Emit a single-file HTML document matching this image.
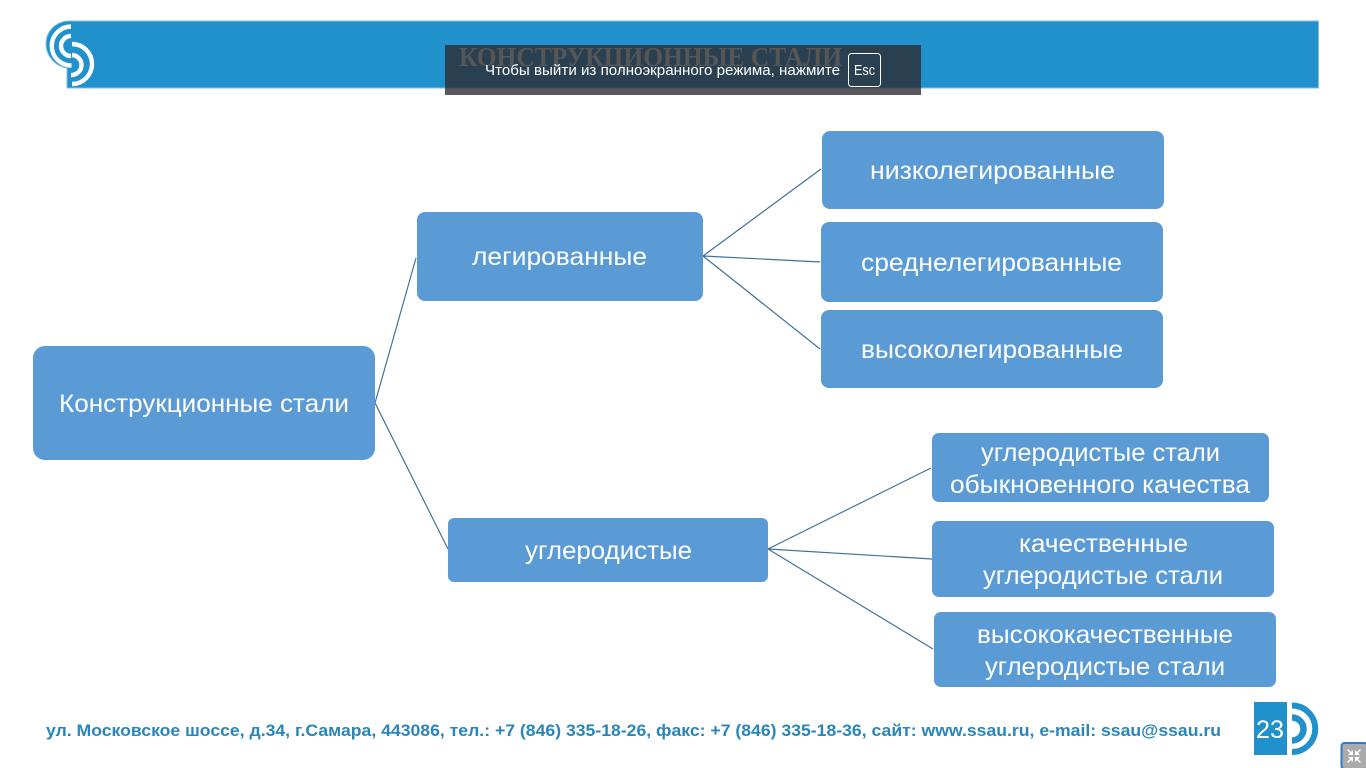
<!DOCTYPE html>
<html lang="ru">
<head>
<meta charset="utf-8">
<title>Конструкционные стали</title>
<style>
html,body{margin:0;padding:0;background:#fff;width:1366px;height:768px;overflow:hidden}
svg{display:block}
text{font-family:"Liberation Sans","DejaVu Sans",sans-serif}
.n{fill:#fff;font-size:25px}
.b{fill:#5b9bd5}
.l{stroke:#41719c;stroke-width:1.2;fill:none}
</style>
</head>
<body>
<svg width="1366" height="768" viewBox="0 0 1366 768" xmlns="http://www.w3.org/2000/svg">
<rect width="1366" height="768" fill="#fff"/>

<!-- header band -->
<path d="M70 21H1318.500V88H67V68C55 66 46 56 46 44C46 31 56 21 70 21Z" fill="#2191cb" stroke="#7fc0e2" stroke-width="1"/>
<g fill="none" stroke="#fff" stroke-width="4.400">
<path d="M71 26.500A19.500 19.500 0 1 0 71.500 65.500"/>
<path d="M71 36A10 10 0 0 0 71 56"/>
<path d="M72 44A20 20 0 0 1 72 84"/>
<path d="M72 55A10 10 0 0 1 71 75"/>
</g>

<!-- fullscreen toast -->
<rect x="445" y="45" width="476" height="50" fill="#2c2a30" fill-opacity=".79"/>
<text x="459" y="66" font-size="27" font-weight="bold" fill="#565656" textLength="383" lengthAdjust="spacingAndGlyphs" style="font-family:'Liberation Serif',serif">КОНСТРУКЦИОННЫЕ СТАЛИ</text>
<text x="485" y="75" font-size="15" fill="#fff" textLength="355" lengthAdjust="spacingAndGlyphs">Чтобы выйти из полноэкранного режима, нажмите</text>
<rect x="848.500" y="53.500" width="32" height="33" rx="3" fill="none" stroke="#fff" stroke-width="1"/>
<text x="854" y="75" font-size="15" fill="#fff" textLength="21" lengthAdjust="spacingAndGlyphs">Esc</text>

<!-- connectors -->
<path class="l" d="M375 403L416 258M375 403L448 549"/>
<path class="l" d="M703 256L821 169M703 256L820 262M703 256L820 349"/>
<path class="l" d="M768 549L931 468M768 549L932 559M768 549L933 649"/>

<!-- nodes -->
<rect class="b" x="33" y="346" width="342" height="114" rx="12"/>
<rect class="b" x="417" y="212" width="286" height="89" rx="8"/>
<rect class="b" x="448" y="518" width="320" height="64" rx="6"/>
<rect class="b" x="822" y="131" width="342" height="78" rx="8"/>
<rect class="b" x="821" y="222" width="342" height="80" rx="8"/>
<rect class="b" x="821" y="310" width="342" height="78" rx="8"/>
<rect class="b" x="932" y="433" width="337" height="69" rx="7"/>
<rect class="b" x="932" y="521" width="342" height="76" rx="7"/>
<rect class="b" x="934" y="612" width="342" height="75" rx="7"/>

<text class="n" x="59" y="412" textLength="290" lengthAdjust="spacingAndGlyphs">Конструкционные стали</text>
<text class="n" x="472" y="265" textLength="175" lengthAdjust="spacingAndGlyphs">легированные</text>
<text class="n" x="525" y="559" textLength="167" lengthAdjust="spacingAndGlyphs">углеродистые</text>
<text class="n" x="870" y="179" textLength="245" lengthAdjust="spacingAndGlyphs">низколегированные</text>
<text class="n" x="861" y="271" textLength="261" lengthAdjust="spacingAndGlyphs">среднелегированные</text>
<text class="n" x="861" y="358" textLength="262" lengthAdjust="spacingAndGlyphs">высоколегированные</text>
<text class="n" x="981" y="461" textLength="239" lengthAdjust="spacingAndGlyphs">углеродистые стали</text>
<text class="n" x="950" y="493" textLength="300" lengthAdjust="spacingAndGlyphs">обыкновенного качества</text>
<text class="n" x="1019" y="552" textLength="169" lengthAdjust="spacingAndGlyphs">качественные</text>
<text class="n" x="983" y="584" textLength="240" lengthAdjust="spacingAndGlyphs">углеродистые стали</text>
<text class="n" x="977" y="643" textLength="256" lengthAdjust="spacingAndGlyphs">высококачественные</text>
<text class="n" x="985" y="675" textLength="240" lengthAdjust="spacingAndGlyphs">углеродистые стали</text>

<!-- footer -->
<text x="46" y="736" font-size="17" font-weight="bold" fill="#2a86b8" textLength="1175" lengthAdjust="spacingAndGlyphs">ул. Московское шоссе, д.34, г.Самара, 443086, тел.: +7 (846) 335-18-26, факс: +7 (846) 335-18-36, сайт: www.ssau.ru, e-mail: ssau@ssau.ru</text>

<!-- page number -->
<rect x="1254" y="702" width="33" height="53" fill="#2191cb"/>
<text x="1256" y="738" font-size="25" fill="#fff" textLength="28" lengthAdjust="spacingAndGlyphs">23</text>
<g fill="none" stroke="#2191cb">
<path d="M1292 705.500A23.250 23.250 0 0 1 1292 752" stroke-width="6"/>
<path d="M1292 717.500A11.500 11.500 0 0 1 1292 740.500" stroke-width="6.500"/>
</g>

<!-- exit fullscreen button -->
<rect x="1341.500" y="743" width="26" height="26" rx="3" fill="#aaa" stroke="#2e7ecb" stroke-width="2"/>
<g stroke="#fff" stroke-width="1.500" fill="#fff">
<path d="M1347.500 749.500L1351 753"/>
<path d="M1360.500 749.500L1357 753"/>
<path d="M1347.500 762.500L1351 759"/>
<path d="M1360.500 762.500L1357 759"/>
</g>
<g fill="#fff">
<path d="M1353 755V750L1348 755Z"/>
<path d="M1355 755V750L1360 755Z"/>
<path d="M1353 757V762L1348 757Z"/>
<path d="M1355 757V762L1360 757Z"/>
</g>
</svg>
</body>
</html>
